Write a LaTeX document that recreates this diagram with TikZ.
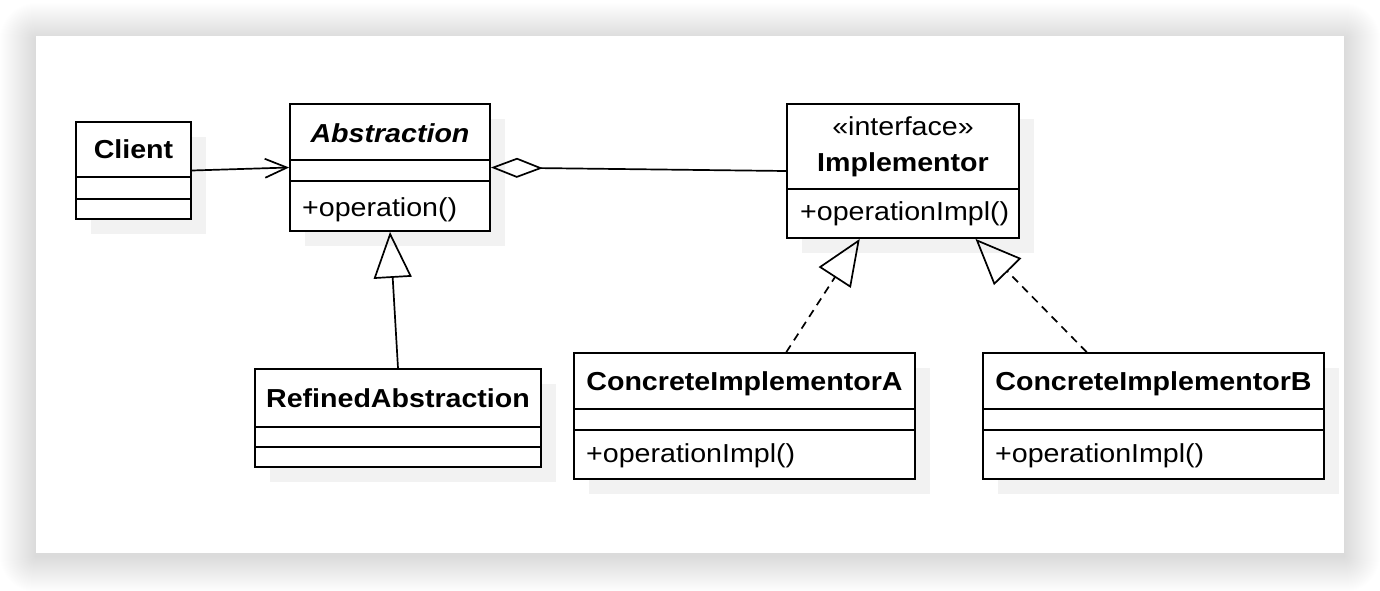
\documentclass[tikz,border=0pt]{standalone}
\usepackage{fontspec}
\setmainfont[FakeStretch=1.1]{Liberation Sans}
\usetikzlibrary{arrows.meta,calc,shadows}
\definecolor{boxshadow}{HTML}{F2F2F2}
\begin{document}
\begin{tikzpicture}[x=1pt,y=-1pt,
  cls/.style={draw=black, line width=1.8pt, fill=white, inner sep=0pt,
    drop shadow={shadow xshift=15pt, shadow yshift=-15pt, fill=boxshadow, opacity=1}},
  ttl/.style={font=\fontsize{26}{30}\selectfont\bfseries, inner sep=0pt, anchor=base},
  ittl/.style={font=\fontsize{26}{30}\selectfont\bfseries\itshape, inner sep=0pt, anchor=base},
  stereo/.style={font=\fontsize{26}{30}\selectfont, inner sep=0pt, anchor=base},
  op/.style={font=\fontsize{26}{30}\selectfont, inner sep=0pt, anchor=base west},
  conn/.style={line width=1.7pt, draw=black},
  sep/.style={line width=1.8pt, draw=black},
  gen/.style={-{Triangle[open,length=46pt,width=38pt]}},
  real/.style={dash pattern=on 8pt off 6pt},
]
\useasboundingbox (0,0) rectangle (1380,590);
\fill[white] (0,0) rectangle (1380,590);
% card shadow
\foreach \i in {1,...,36} {
  \fill[black, opacity=0.0045, rounded corners=\i pt] (36-\i,36-\i+3) rectangle (1344+\i,553+\i+3);
}
\fill[white] (36,36) rectangle (1344,553);

% classes
\node[cls, minimum width=115pt, minimum height=97pt] (client) at (133.5,170.5) {};
\node[cls, minimum width=200pt, minimum height=127pt] (abs) at (390,167.5) {};
\node[cls, minimum width=232pt, minimum height=134pt] (impl) at (903,171) {};
\node[cls, minimum width=286pt, minimum height=98pt] (ref) at (398,418) {};
\node[cls, minimum width=341pt, minimum height=126pt] (cia) at (744.5,416) {};
\node[cls, minimum width=341pt, minimum height=126pt] (cib) at (1153.5,416) {};

% compartments
\draw[sep] (client.west |- 0,177) -- (client.east |- 0,177);
\draw[sep] (client.west |- 0,199) -- (client.east |- 0,199);
\draw[sep] (abs.west |- 0,160) -- (abs.east |- 0,160);
\draw[sep] (abs.west |- 0,181) -- (abs.east |- 0,181);
\draw[sep] (impl.west |- 0,189) -- (impl.east |- 0,189);
\draw[sep] (ref.west |- 0,427) -- (ref.east |- 0,427);
\draw[sep] (ref.west |- 0,447) -- (ref.east |- 0,447);
\draw[sep] (cia.west |- 0,409) -- (cia.east |- 0,409);
\draw[sep] (cia.west |- 0,430) -- (cia.east |- 0,430);
\draw[sep] (cib.west |- 0,409) -- (cib.east |- 0,409);
\draw[sep] (cib.west |- 0,430) -- (cib.east |- 0,430);

% texts
\node[ttl] (clientT) at (133.5,158.5) {Client};
\node[ittl] (absT) at (390,142.5) {Abstraction};
\node[op] (absO) at (302,216.5) {+operation()};
\node[stereo] (implS) at (903,135.5) {«interface»};
\node[ttl] (implT) at (903,171.5) {Implementor};
\node[op] (implO) at (800,220.5) {+operationImpl()};
\node[ttl] (refT) at (398,407.5) {RefinedAbstraction};
\node[ttl] (ciaT) at (744.5,390.5) {ConcreteImplementorA};
\node[op] (ciaO) at (586,462.5) {+operationImpl()};
\node[ttl] (cibT) at (1153.5,390.5) {ConcreteImplementorB};
\node[op] (cibO) at (995,462.5) {+operationImpl()};

% connectors
\draw[conn, -{Straight Barb[length=22pt,width=19pt]}] (client.east) -- (abs.west);
\draw[conn, {Diamond[open,length=52pt,width=20pt]}-] (abs.east) -- (impl.west);
\draw[conn, gen] (ref.north) -- (abs.south);
\draw[conn, real, gen] ($(cia.north west)!0.622!(cia.north east)$) -- ($(impl.south west)!0.315!(impl.south east)$);
\draw[conn, real, gen] ($(cib.north west)!0.305!(cib.north east)$) -- ($(impl.south west)!0.81!(impl.south east)$);
\end{tikzpicture}
\end{document}
